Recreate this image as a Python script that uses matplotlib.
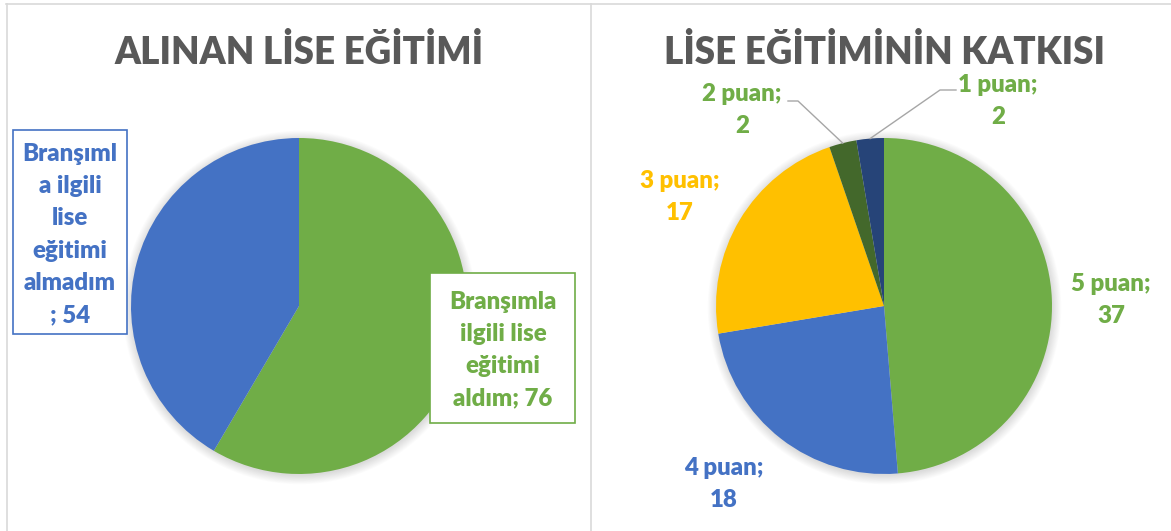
import numpy as np
import matplotlib
matplotlib.use('Agg')
from matplotlib import pyplot as plt
from matplotlib.patches import Circle, Rectangle

# data
left_title = "ALINAN LİSE EĞİTİMİ"
left_values = [76, 54]
left_colors = ['#70AD47', '#4472C4']
left_labels = [f"Branşımla\nilgili lise\neğitimi\naldım; {left_values[0]}",
               f"Branşıml\na ilgili\nlise\neğitimi\nalmadım\n; {left_values[1]}"]

right_title = "LİSE EĞİTİMİNİN KATKISI"
right_names = ["5 puan", "4 puan", "3 puan", "2 puan", "1 puan"]
right_values = [37, 18, 17, 2, 2]
right_colors = ['#70AD47', '#4472C4', '#FFC000', '#43682B', '#264478']
right_text_colors = ['#70AD47', '#4472C4', '#FFC000', '#70AD47', '#70AD47']

W, H = 1171, 531
FONT = ['Lato', 'DejaVu Sans']
WEIGHT = 'heavy'
GRID = '#D9D9D9'

fig = plt.figure(figsize=(W / 100, H / 100), dpi=100)
ax = fig.add_axes([0, 0, 1, 1])


def py(y):
    # screen y (from top) -> data y
    return H - y


def draw_pie(cx, cy, r, values, colors):
    # soft shadow like excel
    for i in range(12):
        ax.add_patch(Circle((cx + 0.5, py(cy) - 1.5), r + 0.8 * i, color='k',
                            alpha=0.012, lw=0, zorder=0.5))
    wedges, _ = ax.pie(values, colors=colors, startangle=90, counterclock=False,
                       center=(cx, py(cy)), radius=r,
                       wedgeprops=dict(linewidth=0, zorder=2))
    return wedges


def lines_text(x, baseline0, text, color, size=17.3, step=32.2):
    for k, line in enumerate(text.split('\n')):
        ax.text(x, py(baseline0 + k * step), line, ha='center', va='baseline',
                fontsize=size, fontweight=WEIGHT, color=color, family=FONT, zorder=5)


# panel borders
ax.plot([6, W], [py(4), py(4)], color=GRID, lw=1.2, zorder=0)
ax.plot([6.5, 6.5], [0, py(4)], color=GRID, lw=1.2, zorder=0)
ax.plot([591, 591], [0, py(4)], color=GRID, lw=1.2, zorder=0)

# left chart
R = 168
lw_ = draw_pie(299, 306, R, left_values, left_colors)
ax.text(299, py(64), left_title, ha='center', va='baseline', fontsize=26.5,
        fontweight=WEIGHT, color='#595959', family=FONT)
ax.add_patch(Rectangle((430, py(423)), 145, 150, facecolor='white',
                       edgecolor=left_colors[0], lw=1.2, zorder=4))
lines_text(503, 309, left_labels[0], left_colors[0], step=32)
ax.add_patch(Rectangle((13, py(334)), 114, 204, facecolor='white',
                       edgecolor=left_colors[1], lw=1.2, zorder=4))
lines_text(70, 161, left_labels[1], left_colors[1], step=32.2)

# right chart
rw = draw_pie(884, 306, R, right_values, right_colors)
ax.text(884, py(64), right_title, ha='center', va='baseline', fontsize=26.5,
        fontweight=WEIGHT, color='#595959', family=FONT)

label_pos = [(1111, 291), (724, 475), (680, 188), (742, 101), (998, 92)]
for name, val, col, (lx, ly) in zip(right_names, right_values, right_text_colors, label_pos):
    lines_text(lx, ly, f"{name};\n{val}", col, step=32)

# leader lines for the two small slices
elbows = {3: [(798, 101), (788, 101)], 4: [(940, 90), (956, 90)]}
for idx, pts in elbows.items():
    w = rw[idx]
    mid = np.deg2rad((w.theta1 + w.theta2) / 2)
    ex = 884 + R * np.cos(mid)
    ey = py(306) + R * np.sin(mid)
    xs = [ex] + [p[0] for p in pts]
    ys = [ey] + [py(p[1]) for p in pts]
    ax.plot(xs, ys, color='#A6A6A6', lw=1.0, zorder=3)

ax.set_xlim(0, W)
ax.set_ylim(0, H)
ax.set_aspect('equal')
ax.axis('off')

fig.savefig('out.png', dpi=100, facecolor='white')
plt.close()
